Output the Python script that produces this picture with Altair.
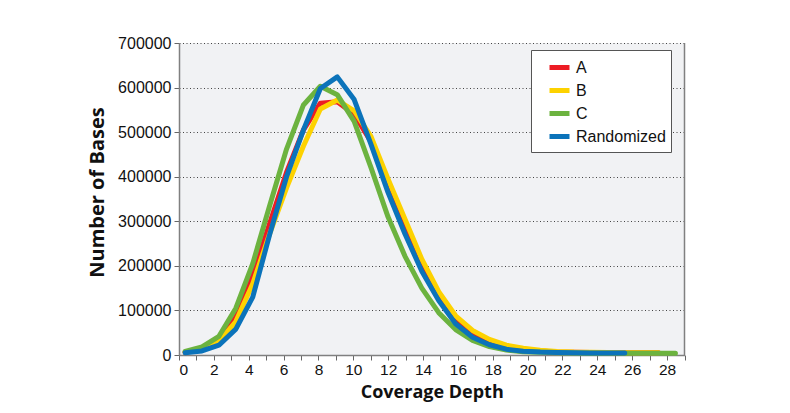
import altair as alt
import pandas as pd

# x positions of the sampled points (coverage depth)
depth = [0.35, 1.32, 2.29, 3.26, 4.23, 5.2, 6.17, 7.14, 8.11, 9.08,
         10.05, 11.02, 11.99, 12.96, 13.93, 14.9, 15.87, 16.84, 17.81, 18.78,
         19.75, 20.72, 21.69, 22.66, 23.63, 24.6, 25.57, 26.54, 27.51, 28.48]

series_a = [6000, 13000, 35000, 85000, 178000, 295000, 410000, 505000, 565000, 568000,
            540000, 478000, 385000, 292000, 203000, 133000, 80000, 48000, 30000, 18500,
            12000, 9000, 7000, 6000, 5500, 5000, 5000, 5000, 5000]

series_b = [6000, 12000, 30000, 75000, 160000, 272000, 375000, 469000, 552000, 572000,
            548000, 490000, 395000, 305000, 215000, 142000, 88000, 55000, 35000, 22000,
            15000, 10500, 8000, 6500, 6000, 5500, 5000, 5000, 5000]

series_c = [8000, 18000, 42000, 105000, 205000, 335000, 462000, 561000, 603000, 584000,
            524000, 420000, 310000, 222000, 150000, 95000, 57000, 33000, 19000, 11000,
            7500, 6000, 5000, 4500, 4000, 4000, 4000, 4000, 4000, 4000]

series_r = [5000, 9000, 22000, 58000, 130000, 270000, 400000, 505000, 598000, 624000,
            573000, 472000, 365000, 272000, 188000, 122000, 70000, 40000, 23000, 13000,
            8500, 6500, 5500, 5000, 4500, 4500, 4500]

names = ["A", "B", "C", "Randomized"]
colors = ["#ed1c24", "#fdd200", "#6cb33f", "#0b73ba"]
y_ticks = [0, 100000, 200000, 300000, 400000, 500000, 600000, 700000]
x_ticks = list(range(0, 30))

rows = []
for name, vals in zip(names, [series_a, series_b, series_c, series_r]):
    for d, v in zip(depth, vals):
        rows.append({"series": name, "depth": d, "bases": v})
df = pd.DataFrame(rows)

x = alt.X("depth:Q",
          scale=alt.Scale(domain=[0, 29], nice=False, zero=False),
          axis=alt.Axis(values=x_ticks, labelOverlap=False,
                        labelExpr="datum.value % 2 == 0 ? datum.label : ''",
                        title="Coverage Depth", grid=False,
                        titleY=42, titleBaseline="alphabetic", titleFontSize=18,
                        labelFontSize=15.5))
y = alt.Y("bases:Q",
          scale=alt.Scale(domain=[0, 700000], nice=False),
          axis=alt.Axis(values=y_ticks, format="d", title="Number of Bases",
                        grid=True, gridDash=[1, 2.5], gridColor="#444444",
                        gridWidth=1, titleX=-76, titleY=149, titleFontSize=20,
                        titleBaseline="alphabetic", labelFontSize=16,
                        labelPadding=3, labelOverlap=False))
color = alt.Color("series:N",
                  scale=alt.Scale(domain=names, range=colors),
                  legend=alt.Legend(title=None, orient="none", legendX=352, legendY=7,
                                    symbolType="stroke", symbolSize=400,
                                    symbolStrokeWidth=5, padding=5, symbolOffset=11,
                                    rowPadding=0, labelOffset=4, labelFontSize=16,
                                    labelFont="Liberation Sans", labelColor="#111111",
                                    strokeColor="#555555", fillColor="white"))

layers = []
for s in names:
    layers.append(
        alt.Chart(df).transform_filter(alt.datum.series == s)
        .mark_line(strokeWidth=5, strokeCap="round", strokeJoin="round")
        .encode(x=x, y=y, color=color)
    )

frame = pd.DataFrame({"depth": [29], "bases": [0], "top": [700000]})
border = alt.Chart(frame).mark_rule(color="#808080", strokeWidth=1.5).encode(
    x=x, y=y, y2="top:Q")

chart = alt.layer(*layers, border).properties(
    width=505.5, height=312,
    autosize=alt.AutoSizeParams(type="none"),
    padding={"left": 171, "top": 35, "right": 97, "bottom": 50},
    background="white",
).configure_view(
    fill="#f1f2f4", stroke=None
).configure_axis(
    labelFont="Liberation Sans", labelColor="#111111", labelOverlap=False,
    titleFont="Open Sans", titleFontWeight=700, titleColor="#111111",
    domainColor="#808080", domainWidth=1.5, tickColor="#666666", tickSize=5,
    tickWidth=1
)

chart.save("out.html", embed_options={"renderer": "svg", "actions": False})
